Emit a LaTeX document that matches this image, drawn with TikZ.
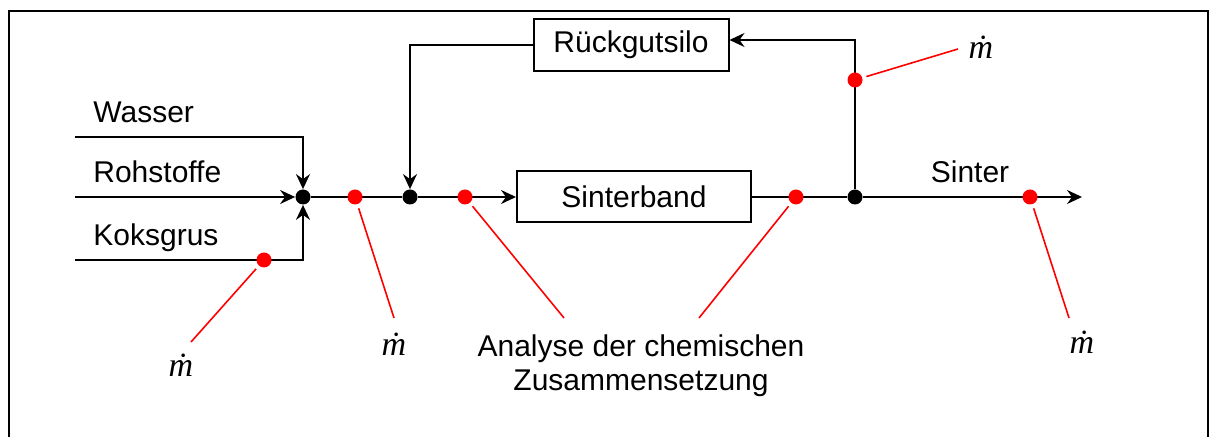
\documentclass[tikz,border=0pt]{standalone}
\usepackage{fontspec}
\setmainfont{Liberation Sans}
\newfontfamily\flowfont{Liberation Serif}
\usetikzlibrary{arrows.meta,backgrounds}

\newcommand{\mdot}{{\flowfont\itshape\fontsize{17}{19}\selectfont ṁ}}

\tikzset{
  line/.style={line width=1pt},
  flow/.style={line width=1pt, -{Stealth[length=7.5pt,width=7pt,inset=2.5pt]}},
  joint/.style={circle, fill=black, inner sep=0pt, minimum size=7.5pt},
  probe/.style={circle, fill=red, inner sep=0pt, minimum size=7.5pt},
  lead/.style={red, line width=0.8pt, shorten <=2pt},
  unit/.style={draw, line width=1pt, inner sep=0pt},
  tag/.style={inner sep=0pt},
}

\begin{document}
\begin{tikzpicture}[x=0.5pt, y=-0.5pt, font=\fontsize{15}{17}\selectfont]
\useasboundingbox (0,0) rectangle (1209,437);

% frame
\draw[line] (9,437) -- (9,11) -- (1208,11) -- (1208,437);

% Free ends of the flows
\coordinate (wasser) at (75,137);
\coordinate (roh) at (75,197);
\coordinate (koks) at (75,260);
\coordinate (out) at (1082,197);

% Junctions, units and measuring points
\node[joint] (mix) at (303,197) {};
\node[probe] (p1) at (264,260) {};
\node[probe] (p2) at (355,197) {};
\node[joint] (ret) at (410,197) {};
\node[probe] (p3) at (465,197) {};
\node[unit, minimum width=117pt, minimum height=25.5pt] (band) at (634,197) {Sinterband};
\node[probe] (p4) at (796,197) {};
\node[joint] (split) at (855,197) {};
\node[probe] (p5) at (855,80) {};
\node[probe] (p6) at (1030,197) {};
\node[unit, minimum width=97.5pt, minimum height=26pt] (silo) at (631,45) {Rückgutsilo};

% Flow lines (behind the dots)
\begin{scope}[on background layer]
\draw[flow] (wasser) -| (mix);
\draw[flow] (roh) -- (mix);
\draw[flow] (koks) -| (mix);
\draw[line] (mix) -- (ret);
\draw[flow] (ret) -- (band);
\draw[line] (band) -- (split);
\draw[flow] (split) -- (out);
\draw[flow] (split) |- ([yshift=2.5pt]silo.east);
\draw[flow] (silo.west) -| (ret);
\end{scope}

% Flow names
\node[tag, anchor=base west] (wlbl) at (93,123) {Wasser};
\node[tag, anchor=base west] (rlbl) at (93,183) {Rohstoffe};
\node[tag, anchor=base west] (klbl) at (93,246) {Koksgrus};
\node[tag, anchor=base] (slbl) at (970,183) {Sinter};

% Mass flow readings
\node[tag, anchor=base] (m1) at (181,377) {\mdot};
\node[tag, anchor=base] (m2) at (394,356) {\mdot};
\node[tag, anchor=base] (m3) at (981,59) {\mdot};
\node[tag, anchor=base] (m4) at (1082,354) {\mdot};
\node[tag, align=center] (chem) at (641,366)
  {Analyse der chemischen\\Zusammensetzung};

% Leader lines
\coordinate (e1) at (191,342);
\coordinate (e2) at (394,318);
\coordinate (e3) at (564,318);
\coordinate (e4) at (699,318);
\coordinate (e5) at (958,49);
\coordinate (e6) at (1069,318);
\draw[lead] (p1) -- (e1);
\draw[lead] (p2) -- (e2);
\draw[lead] (p3) -- (e3);
\draw[lead] (p4) -- (e4);
\draw[lead] (p5) -- (e5);
\draw[lead] (p6) -- (e6);
\end{tikzpicture}
\end{document}
